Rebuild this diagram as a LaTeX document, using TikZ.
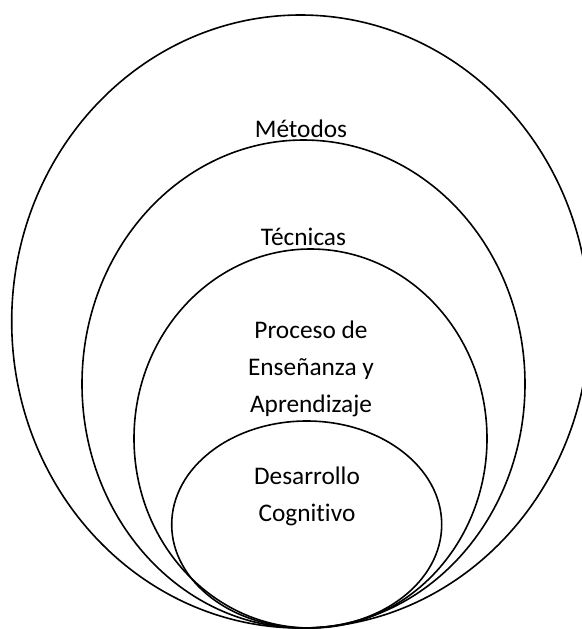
\documentclass[tikz,border=0pt]{standalone}
\usepackage{fontspec}
\setmainfont{Carlito}[Ligatures=NoCommon]
\usepackage{tikz}
\usetikzlibrary{positioning}

\begin{document}
\begin{tikzpicture}[x=0.75pt,y=-0.75pt]
  \tikzstyle{ring}=[draw=black,line width=1.2pt]
  \tikzstyle{txt}=[font=\fontsize{19}{27.5}\selectfont,align=center,anchor=base,inner sep=0pt]
  \useasboundingbox (0,0) rectangle (582,629);
  % nested rings, all touching at the bottom
  \draw[ring] (300.5,321.5) ellipse [x radius=288.8, y radius=306.5];
  \draw[ring] (303.5,384) ellipse [x radius=221.5, y radius=244];
  \draw[ring] (310.5,438.5) ellipse [x radius=176.5, y radius=189.5];
  \draw[ring] (306.7,524.5) ellipse [x radius=135, y radius=103.5];
  % labels (base = last line)
  \node[txt](metodos) at (301,137) {Métodos};
  \node[txt](tecnicas) at (303.5,245) {Técnicas};
  \node[txt](proceso) at (311,412) {Proceso de\\Enseñanza y\\Aprendizaje};
  \node[txt](desarrollo) at (307,521) {Desarrollo\\Cognitivo};
\end{tikzpicture}
\end{document}
